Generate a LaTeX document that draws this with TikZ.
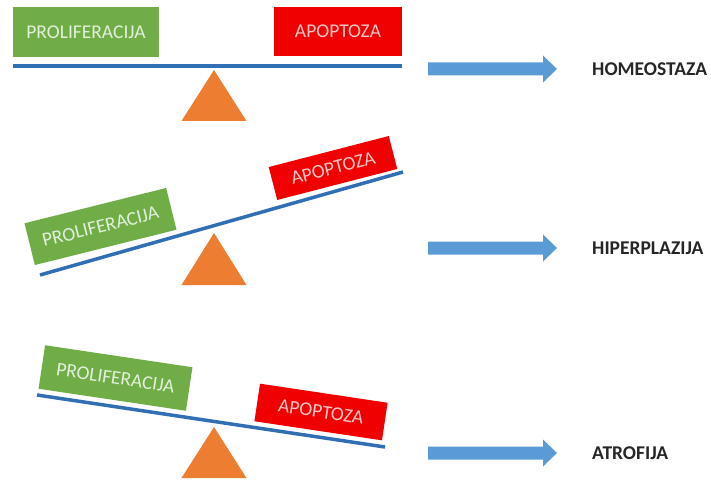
\documentclass[tikz,border=0pt]{standalone}
\usepackage{fontspec}
\setmainfont{Carlito}[Ligatures=NoCommon]
\definecolor{prolgreen}{RGB}{112,173,71}
\definecolor{apopred}{RGB}{240,0,0}
\definecolor{beamblue}{RGB}{50,110,180}
\definecolor{arrowblue}{RGB}{91,155,213}
\definecolor{fulcrumorange}{RGB}{237,125,49}
\tikzset{
  prolbox/.style={fill=prolgreen, text=prolgreen!20!white, inner sep=0pt,
    font=\fontsize{19.5}{20}\selectfont},
  apopbox/.style={fill=apopred, text=apopred!22!white, inner sep=0pt,
    font=\fontsize{19.5}{20}\selectfont},
  beam/.style={draw=beamblue, line width=3.5pt},
  fulcrum/.style={fill=fulcrumorange},
  outcome/.style={anchor=west, text=black!85, inner sep=0pt,
    font=\bfseries\fontsize{19.5}{20}\selectfont}
}

\begin{document}
\begin{tikzpicture}[x=1pt,y=-1pt]
    \useasboundingbox (0,0) rectangle (711,481);
    % balance
    \node[prolbox, minimum width=146pt, minimum height=50pt] (prol1) at (86,32) {PROLIFERACIJA};
    \node[apopbox, minimum width=128pt, minimum height=49pt] (apop1) at (338,31.5) {APOPTOZA};
    \draw[beam] (13,66) -- (402,66);
    \fill[fulcrum] (214,70) -- (246.5,121) -- (181.5,121) -- cycle;
    % more proliferation
    \node[prolbox, rotate=14, minimum width=146pt, minimum height=43pt] (prol2) at (100.5,226.5) {PROLIFERACIJA};
    \node[apopbox, rotate=14.5, minimum width=124pt, minimum height=34pt] (apop2) at (333,168) {APOPTOZA};
    \draw[beam] (40,275) -- (403,172);
    \fill[fulcrum] (214,233) -- (246.5,285) -- (181.5,285) -- cycle;
    % more apoptosis
    \node[prolbox, rotate=-8.5, minimum width=149pt, minimum height=44pt] (prol3) at (115.5,378) {PROLIFERACIJA};
    \node[apopbox, rotate=-8.5, minimum width=129pt, minimum height=38pt] (apop3) at (321,412) {APOPTOZA};
    \draw[beam] (37,395) -- (385,447);
    \fill[fulcrum] (214,427) -- (246.5,478) -- (181.5,478) -- cycle;
    % outcomes
    \foreach \y/\txt/\nm in {69/HOMEOSTAZA/homeo, 248/HIPERPLAZIJA/hiper, 453/ATROFIJA/atrof} {
      \fill[arrowblue] (428,\y-6.5) -- (543,\y-6.5) -- (543,\y-13.5) -- (557,\y)
        -- (543,\y+13.5) -- (543,\y+6.5) -- (428,\y+6.5) -- cycle;
      \node[outcome] (\nm) at (592,\y) {\txt};
    }
\end{tikzpicture}
\end{document}
